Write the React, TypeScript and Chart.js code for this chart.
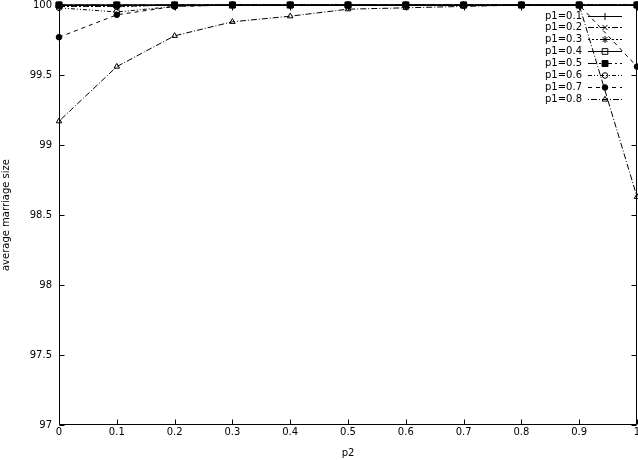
import React, { useEffect, useRef } from 'react';
import { Chart, registerables } from 'chart.js';
import { drawPoint } from 'chart.js/helpers';

Chart.register(...registerables);

// ---- data ----
const p2Values = [0, 0.1, 0.2, 0.3, 0.4, 0.5, 0.6, 0.7, 0.8, 0.9, 1];
const xTickLabels = ['0', '0.1', '0.2', '0.3', '0.4', '0.5', '0.6', '0.7', '0.8', '0.9', '1'];
const yTickValues = [97, 97.5, 98, 98.5, 99, 99.5, 100];
const yTickLabels = ['97', '97.5', '98', '98.5', '99', '99.5', '100'];
const seriesLabels = ['p1=0.1', 'p1=0.2', 'p1=0.3', 'p1=0.4', 'p1=0.5', 'p1=0.6', 'p1=0.7', 'p1=0.8'];

const p1_01 = [100, 100, 100, 100, 100, 100, 100, 100, 100, 100, 100];
const p1_02 = [99.99, 99.99, 100, 100, 100, 100, 100, 100, 100, 100, 100];
const p1_03 = [99.99, 99.99, 100, 100, 100, 100, 100, 100, 100, 100, 100];
const p1_04 = [100, 100, 100, 100, 100, 100, 100, 100, 100, 100, 100];
const p1_05 = [100, 100, 100, 100, 100, 100, 100, 100, 100, 100, 100];
const p1_06 = [99.98, 99.95, 99.99, 100, 100, 100, 100, 100, 100, 100, 100];
const p1_07 = [99.77, 99.93, 99.99, 100, 100, 100, 100, 100, 100, 100, 99.56];
const p1_08 = [99.17, 99.56, 99.78, 99.88, 99.92, 99.97, 99.98, 99.99, 100, 100, 98.63];

const seriesValues = [p1_01, p1_02, p1_03, p1_04, p1_05, p1_06, p1_07, p1_08];

// ---- styles ----
const FONT = '"DejaVu Sans", Verdana, sans-serif';
const FONT_SIZE = 10;
const seriesStyles = [
  { pointStyle: 'cross', radius: 3.5, fill: false, dash: [] as number[] },
  { pointStyle: 'crossRot', radius: 3.5, fill: false, dash: [6, 2, 2, 2] },
  { pointStyle: 'star', radius: 3.5, fill: false, dash: [2, 2] },
  { pointStyle: 'rect', radius: 4, fill: false, dash: [] as number[] },
  { pointStyle: 'rect', radius: 4.2, fill: true, dash: [8, 3, 2, 3] },
  { pointStyle: 'circle', radius: 2.8, fill: false, dash: [4, 2, 1, 2, 1, 2] },
  { pointStyle: 'circle', radius: 2.8, fill: true, dash: [4, 4] },
  { pointStyle: 'triangle', radius: 3.2, fill: false, dash: [1, 2, 6, 2] },
];

const framePlugin = {
  id: 'frameTicks',
  beforeDatasetsDraw(chart: any) {
    const { ctx, chartArea } = chart;
    const { left, right, top, bottom } = chartArea;
    const xs = chart.scales.x;
    const ys = chart.scales.y;
    const tl = 5;
    ctx.save();
    ctx.strokeStyle = '#000';
    ctx.lineWidth = 1;
    ctx.setLineDash([]);
    ctx.beginPath();
    const L = Math.round(left) + 0.5;
    const R = Math.round(right) - 0.5;
    const T = Math.round(top) + 0.5;
    const B = Math.round(bottom) - 0.5;
    ctx.rect(L, T, R - L, B - T);
    p2Values.forEach((v) => {
      const px = Math.round(xs.getPixelForValue(v)) + 0.5;
      ctx.moveTo(px, B);
      ctx.lineTo(px, B - tl);
      ctx.moveTo(px, T);
      ctx.lineTo(px, T + tl);
    });
    yTickValues.forEach((v) => {
      const py = Math.round(ys.getPixelForValue(v)) + 0.5;
      ctx.moveTo(L, py);
      ctx.lineTo(L + tl, py);
      ctx.moveTo(R, py);
      ctx.lineTo(R - tl, py);
    });
    ctx.stroke();
    ctx.restore();
  },
};

const legendPlugin = {
  id: 'innerLegend',
  afterDatasetsDraw(chart: any) {
    const { ctx, chartArea } = chart;
    const textRight = chartArea.right - 55;
    const lineStart = chartArea.right - 49;
    const lineEnd = chartArea.right - 15;
    const markerX = (lineStart + lineEnd) / 2;
    ctx.save();
    ctx.font = `${FONT_SIZE}px ${FONT}`;
    ctx.textAlign = 'right';
    ctx.textBaseline = 'middle';
    chart.data.datasets.forEach((ds: any, i: number) => {
      const y = Math.round(chartArea.top + 10.5 + i * 11.9) + 0.5;
      const st = seriesStyles[i];
      ctx.fillStyle = '#000';
      ctx.fillText(ds.label, textRight, y);
      ctx.strokeStyle = '#000';
      ctx.lineWidth = 1;
      ctx.setLineDash(st.dash);
      ctx.beginPath();
      ctx.moveTo(lineStart, y);
      ctx.lineTo(lineEnd, y);
      ctx.stroke();
      ctx.setLineDash([]);
      ctx.fillStyle = st.fill ? '#000' : 'rgba(0,0,0,0)';
      drawPoint(ctx, { pointStyle: st.pointStyle, radius: st.radius, rotation: 0, borderWidth: 1 } as any, markerX, y);
    });
    ctx.restore();
  },
};

export default function App() {
  const canvasRef = useRef<HTMLCanvasElement | null>(null);

  useEffect(() => {
    if (!canvasRef.current) return;
    Chart.defaults.color = '#000';
    Chart.defaults.font.family = FONT;
    Chart.defaults.font.size = FONT_SIZE;

    const datasets = seriesValues.map((vals, i) => {
      const st = seriesStyles[i];
      return {
        label: seriesLabels[i],
        data: vals.map((y, j) => ({ x: p2Values[j], y })),
        borderColor: '#000',
        borderWidth: 1,
        borderDash: st.dash,
        pointStyle: st.pointStyle,
        pointRadius: st.radius,
        pointBorderWidth: 1,
        pointBorderColor: '#000',
        pointBackgroundColor: st.fill ? '#000' : 'rgba(0,0,0,0)',
        fill: false,
        tension: 0,
        clip: false as any,
        order: seriesValues.length - i,
      };
    });

    const chart = new Chart(canvasRef.current, {
      type: 'line',
      data: { datasets: datasets as any },
      options: {
        animation: false,
        responsive: false,
        maintainAspectRatio: false,
        layout: { autoPadding: false, padding: { top: 5, right: 1, left: 0, bottom: 0 } },
        plugins: {
          legend: { display: false },
          tooltip: { enabled: false },
          title: { display: false },
        },
        elements: { line: { borderCapStyle: 'butt' } },
        scales: {
          x: {
            type: 'linear',
            min: 0,
            max: 1,
            afterBuildTicks: (scale: any) => {
              scale.ticks = p2Values.map((v) => ({ value: v }));
            },
            afterFit: (scale: any) => {
              scale.height = 35;
              scale.paddingLeft = 0;
              scale.paddingRight = 0;
            },
            ticks: {
              autoSkip: false,
              maxRotation: 0,
              padding: 1,
              color: '#000',
              font: { size: FONT_SIZE, family: FONT },
              callback: (_v: any, idx: number) => xTickLabels[idx],
            },
            grid: { display: false, drawTicks: false },
            border: { display: false },
            title: {
              display: true,
              text: 'p2',
              color: '#000',
              font: { size: FONT_SIZE, family: FONT },
              padding: { top: 0, bottom: 1 },
            },
          },
          y: {
            type: 'linear',
            min: 97,
            max: 100,
            afterBuildTicks: (scale: any) => {
              scale.ticks = yTickValues.map((v) => ({ value: v }));
            },
            afterFit: (scale: any) => {
              scale.width = 59;
              scale.paddingTop = 0;
              scale.paddingBottom = 0;
            },
            ticks: {
              autoSkip: false,
              padding: 7,
              color: '#000',
              font: { size: FONT_SIZE, family: FONT },
              callback: (_v: any, idx: number) => yTickLabels[idx],
            },
            grid: { display: false, drawTicks: false },
            border: { display: false },
            title: {
              display: true,
              text: 'average marriage size',
              color: '#000',
              font: { size: FONT_SIZE, family: FONT },
              padding: { top: 0, bottom: 0 },
            },
          },
        },
      },
      plugins: [framePlugin, legendPlugin],
    });

    return () => {
      chart.destroy();
    };
  }, []);

  return (
    <canvas
      ref={canvasRef}
      width={638}
      height={460}
      style={{ position: 'absolute', left: 0, top: 0, width: 638, height: 460, background: '#fff' }}
    />
  );
}
